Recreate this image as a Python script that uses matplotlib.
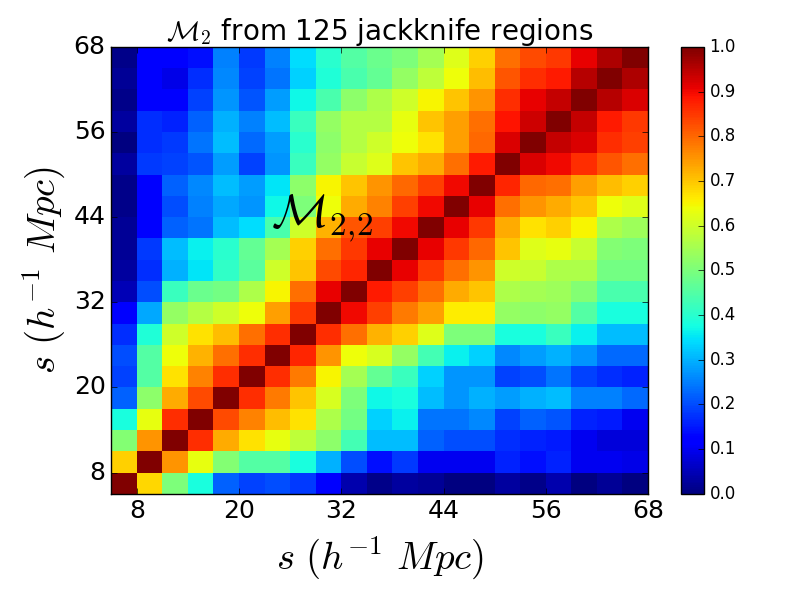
import numpy as np
import matplotlib
matplotlib.use('Agg')
import matplotlib.pyplot as plt

plt.style.use('classic')
plt.rcParams['mathtext.fontset'] = 'cm'

# correlation values, row 0 is the bottom row
row_00 = [1.00, .68, .50, .38, .22, .19, .20, .18, .11, .04, .01, .03, .02, .00, .00, .03, .01, .04, .00, .02, .00]
row_01 = [.69, 1.00, .75, .63, .51, .45, .45, .38, .30, .20, .14, .18, .10, .10, .10, .16, .14, .16, .10, .10, .09]
row_02 = [.51, .75, 1.00, .86, .73, .67, .63, .58, .52, .43, .31, .31, .22, .20, .20, .17, .16, .15, .10, .08, .08]
row_03 = [.38, .63, .86, 1.00, .83, .77, .71, .67, .56, .49, .33, .36, .24, .24, .26, .19, .22, .21, .16, .15, .10]
row_04 = [.22, .52, .73, .83, 1.00, .86, .78, .70, .61, .50, .37, .38, .31, .27, .30, .28, .30, .31, .25, .25, .23]
row_05 = [.19, .45, .67, .77, .86, 1.00, .86, .78, .65, .55, .47, .42, .33, .27, .27, .19, .20, .24, .19, .17, .16]
row_06 = [.20, .45, .64, .72, .79, .86, 1.00, .87, .75, .64, .61, .53, .43, .36, .33, .26, .28, .30, .27, .23, .23]
row_07 = [.17, .39, .60, .67, .71, .79, .86, 1.00, .86, .79, .72, .69, .62, .50, .50, .38, .38, .42, .36, .31, .31]
row_08 = [.11, .29, .53, .57, .60, .64, .74, .85, 1.00, .90, .84, .78, .74, .66, .66, .53, .52, .53, .45, .38, .38]
row_09 = [.05, .20, .42, .48, .49, .56, .65, .79, .91, 1.00, .88, .84, .79, .73, .70, .56, .55, .54, .51, .44, .44]
row_10 = [.03, .17, .30, .35, .41, .46, .60, .70, .83, .87, 1.00, .91, .85, .79, .75, .60, .59, .56, .56, .49, .49]
row_11 = [.02, .18, .31, .36, .40, .47, .55, .69, .79, .85, .91, 1.00, .91, .85, .80, .70, .62, .63, .59, .51, .50]
row_12 = [.02, .12, .22, .24, .31, .34, .44, .60, .72, .82, .84, .90, 1.00, .91, .85, .73, .67, .69, .65, .56, .54]
row_13 = [.01, .12, .20, .25, .29, .27, .37, .50, .64, .73, .77, .84, .90, 1.00, .91, .79, .75, .73, .70, .64, .62]
row_14 = [.01, .12, .22, .26, .31, .28, .35, .52, .65, .70, .75, .80, .84, .90, 1.00, .87, .80, .79, .74, .71, .69]
row_15 = [.03, .18, .19, .21, .28, .19, .27, .42, .53, .59, .62, .70, .73, .79, .88, 1.00, .92, .90, .86, .82, .79]
row_16 = [.00, .17, .18, .24, .31, .23, .28, .40, .52, .57, .60, .64, .67, .74, .80, .92, 1.00, .94, .92, .86, .84]
row_17 = [.03, .17, .16, .22, .30, .25, .31, .42, .53, .57, .57, .63, .70, .74, .79, .89, .93, 1.00, .94, .88, .85]
row_18 = [.01, .12, .11, .19, .27, .21, .28, .37, .44, .52, .56, .60, .65, .70, .75, .86, .91, .94, 1.00, .95, .92]
row_19 = [.02, .11, .09, .17, .26, .19, .24, .33, .39, .44, .47, .53, .58, .64, .71, .82, .86, .88, .95, 1.00, .96]
row_20 = [.01, .12, .11, .14, .25, .18, .25, .34, .40, .45, .48, .50, .55, .62, .69, .79, .83, .85, .91, .96, 1.00]

tick_labels = ['8', '20', '32', '44', '56', '68']

corr = np.array([row_00, row_01, row_02, row_03, row_04, row_05, row_06,
                 row_07, row_08, row_09, row_10, row_11, row_12, row_13,
                 row_14, row_15, row_16, row_17, row_18, row_19, row_20])

fig = plt.figure(figsize=(8, 6), dpi=100, facecolor='white')
ax = fig.add_axes([0.139, 0.177, 0.671, 0.745])
cax = fig.add_axes([0.851, 0.177, 0.029, 0.745])

mesh = ax.pcolormesh(corr, cmap='jet', vmin=0, vmax=1)
ax.set_xlim(0, 21)
ax.set_ylim(0, 21)

ticks = np.arange(1, 22, 4)
ax.set_xticks(ticks)
ax.set_yticks(ticks)
ax.set_xticklabels(tick_labels, size=18)
ax.set_yticklabels(tick_labels, size=18)

ax.set_xlabel(r'$s\ (h^{-1}\ Mpc)$', size=28, labelpad=8)
ax.set_ylabel(r'$s\ (h^{-1}\ Mpc)$', size=28, labelpad=4)
ax.set_title(r'$\mathcal{M}_2$ from 125 jackknife regions', size=20)

ax.text(6.25, 12.5, r'$\mathcal{M}_{2,\!2}$', size=34, color='black')

cb = fig.colorbar(mesh, cax=cax, ticks=np.arange(0, 1.01, 0.1))
cb.ax.tick_params(labelsize=12)

fig.savefig('out.png', dpi=100, facecolor='white')
